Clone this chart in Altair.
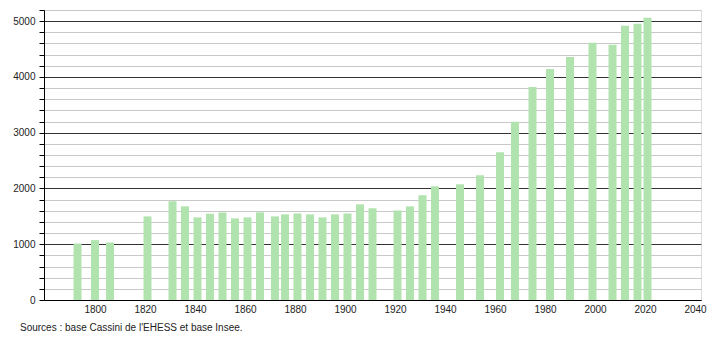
import altair as alt
import pandas as pd

years = [1793, 1800, 1806, 1821, 1831, 1836, 1841, 1846, 1851, 1856, 1861, 1866,
         1872, 1876, 1881, 1886, 1891, 1896, 1901, 1906, 1911, 1921, 1926, 1931,
         1936, 1946, 1954, 1962, 1968, 1975, 1982, 1990, 1999, 2007, 2012, 2017, 2021]
population = [1013, 1073, 1031, 1499, 1769, 1679, 1481, 1547, 1571, 1463, 1481, 1571,
              1499, 1535, 1553, 1535, 1481, 1535, 1553, 1715, 1643, 1607, 1679, 1877,
              2039, 2075, 2237, 2650, 3196, 3819, 4143, 4359, 4611, 4575, 4916, 4953, 5060]
x_ticks = list(range(1800, 2041, 20))
y_ticks = list(range(0, 5201, 200))
source_text = "Sources : base Cassini de l'EHESS et base Insee."

df = pd.DataFrame({"year": years, "pop": population})

font = "Liberation Sans"

chart = alt.Chart(df).mark_bar(size=8, color="#b1e3ae").encode(
    x=alt.X("year:Q",
            scale=alt.Scale(domain=[1779.6, 2042.4], nice=False, zero=False, padding=0),
            axis=alt.Axis(values=x_ticks, format="d", title=None, grid=False,
                          ticks=False, domainColor="#000", labelColor="#222",
                          labelFont=font, labelFontSize=10, labelPadding=4)),
    y=alt.Y("pop:Q",
            scale=alt.Scale(domain=[0, 5200], nice=False),
            axis=alt.Axis(values=y_ticks, format="d", title=None,
                          labelExpr="datum.value % 1000 === 0 ? datum.label : ''",
                          gridColor={"condition": {"test": "datum.value % 1000 === 0", "value": "#333333"}, "value": "#c8c8c8"},
                          gridWidth=1, tickColor="#000", tickSize=5,
                          domainColor="#000", labelColor="#222",
                          labelFont=font, labelFontSize=10, labelPadding=4)),
).properties(
    width=657, height=290,
    padding={"left": 44, "top": 10, "right": 9, "bottom": 40},
    autosize=alt.AutoSizeParams(type="none"),
    title=alt.TitleParams(text=source_text, orient="bottom", anchor="start",
                          frame="group", fontSize=10, font=font, fontWeight="normal",
                          color="#222", dx=-24, offset=9),
).configure_view(stroke=None).configure(background="white")

chart.save("out.html", embed_options={"renderer": "svg", "actions": False})
